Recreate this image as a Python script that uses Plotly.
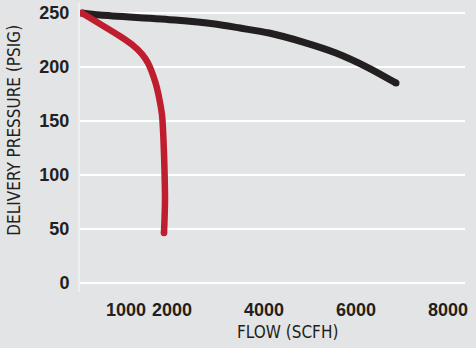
# Delivery pressure vs flow chart
import plotly.graph_objects as go

# black curve (high flow)
black_flow = [40, 435, 2065, 2935, 3480, 4110, 4850, 5565, 6280, 6870]
black_psig = [250, 248.1, 243.5, 239.8, 236.1, 231.5, 223.1, 213, 199.1, 185.2]

# red curve (low flow)
red_flow = [40, 348, 652, 913, 1130, 1348, 1478, 1630, 1717, 1783, 1815, 1837, 1848, 1837, 1826]
red_psig = [250, 242.1, 234.3, 227.3, 220.8, 212, 203.7, 187, 172.2, 155.6, 132.4, 104.6, 76.9, 58.3, 46.3]

x_ticks = [1000, 2000, 4000, 6000, 8000]
y_ticks = [0, 50, 100, 150, 200, 250]

bg = "#e3e4e5"
fig = go.Figure()

for xs, ys, col, w in [(black_flow, black_psig, "#231f20", 7), (red_flow, red_psig, "#be1e2d", 6.5)]:
    fig.add_trace(go.Scatter(x=xs, y=ys, mode="lines", line=dict(color=col, width=w, shape="spline", smoothing=0.8),
                             hoverinfo="skip"))
    # round caps at the ends
    fig.add_trace(go.Scatter(x=[xs[0], xs[-1]], y=[ys[0], ys[-1]], mode="markers",
                             marker=dict(color=col, size=w, line=dict(width=0)), hoverinfo="skip"))

tick_font = dict(size=18, family="Liberation Sans, Arial, sans-serif", weight="bold", color="#231f20")
title_font = dict(size=17, family="Liberation Sans Narrow, DejaVu Sans Condensed, sans-serif", color="#231f20")

fig.update_layout(
    width=476, height=348,
    margin=dict(l=80, r=11, t=3, b=56),
    paper_bgcolor=bg, plot_bgcolor=bg,
    showlegend=False,
    xaxis=dict(range=[0, 8370], tickvals=x_ticks, tickangle=0, showgrid=False, zeroline=False,
               automargin=False, tickfont=tick_font, ticks="outside", ticklen=1, tickcolor=bg),
    yaxis=dict(range=[-8.3, 259.3], tickvals=y_ticks, showgrid=True, gridcolor="white", gridwidth=1.5,
               zeroline=False, showline=True, linecolor="#eeeff0", linewidth=2, automargin=False,
               tickfont=tick_font, ticks="outside", ticklen=5, tickcolor=bg),
    annotations=[
        dict(text="FLOW (SCFH)", xref="paper", yref="paper", x=0.54, y=-0.138, xanchor="center",
             yanchor="middle", showarrow=False, font=title_font),
        dict(text="DELIVERY PRESSURE (PSIG)", xref="paper", yref="paper", x=-0.17, y=0.56,
             xanchor="center", yanchor="middle", textangle=-90, showarrow=False, font=title_font),
    ],
)

# drop the default body margin so the figure sits at the page corner
fig.write_html("out.html", config={"displayModeBar": False},
               post_script="document.body.style.margin='0';")
